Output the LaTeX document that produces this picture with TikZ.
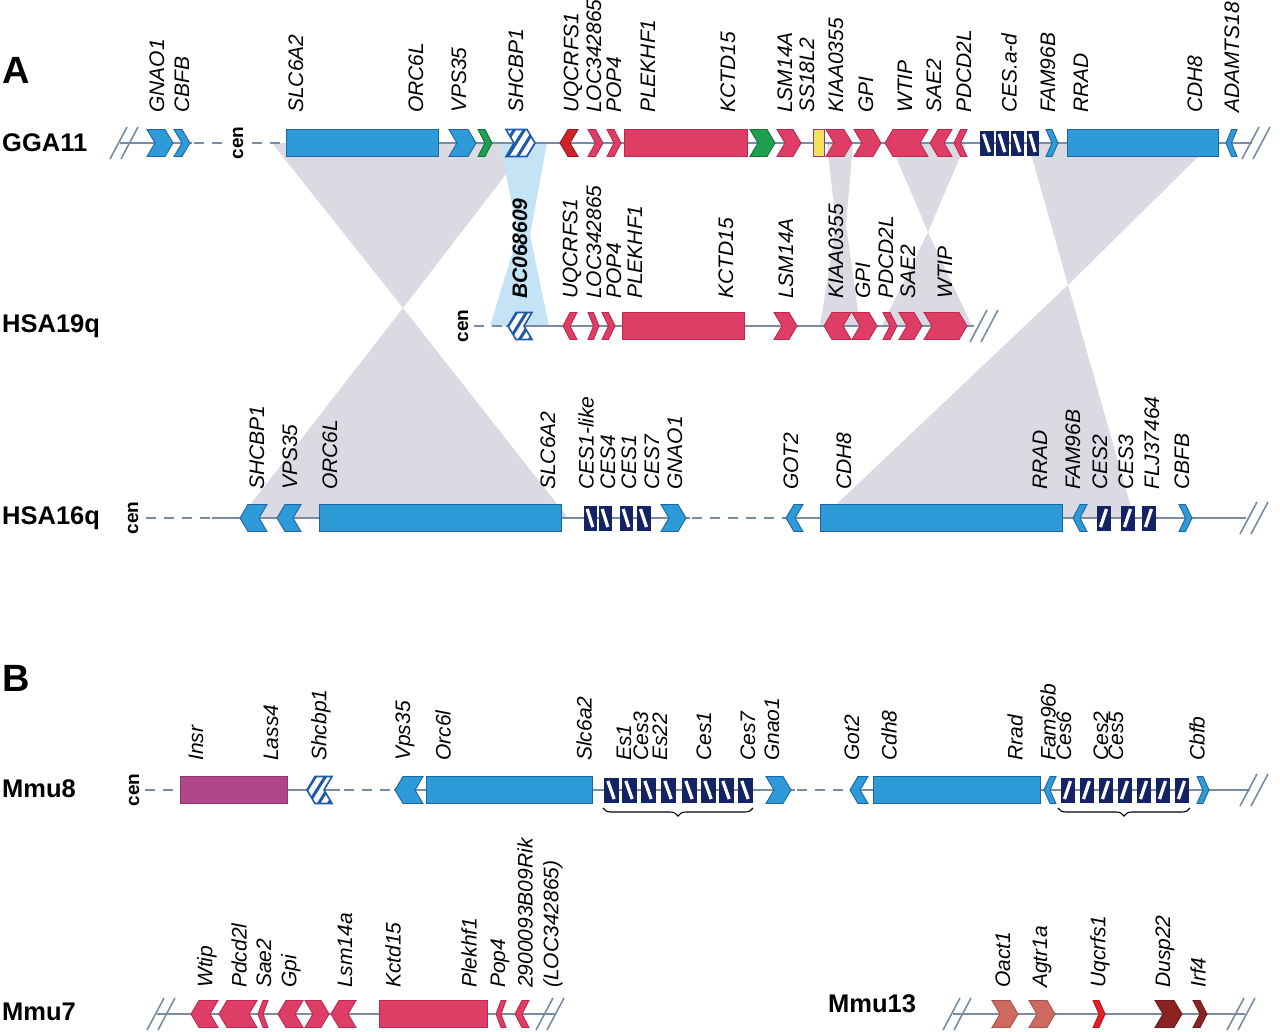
\documentclass[tikz,border=0pt]{standalone}
\usepackage{fontspec}
\setmainfont{Liberation Sans}
\usetikzlibrary{decorations.pathreplacing}
\definecolor{blueF}{RGB}{45,155,215}
\definecolor{blueD}{RGB}{30,100,165}
\definecolor{pinkF}{RGB}{222,62,102}
\definecolor{pinkD}{RGB}{190,40,80}
\definecolor{redF}{RGB}{210,35,45}
\definecolor{greenF}{RGB}{30,160,80}
\definecolor{yellowF}{RGB}{245,225,90}
\definecolor{purpD}{RGB}{140,60,140}
\definecolor{navy}{RGB}{20,35,100}
\definecolor{hatchB}{RGB}{30,90,170}
\definecolor{magF}{RGB}{178,70,140}
\definecolor{synG}{RGB}{218,219,226}
\definecolor{synB}{RGB}{196,228,245}
\definecolor{salF}{RGB}{205,105,95}
\definecolor{brF}{RGB}{228,30,40}
\definecolor{marF}{RGB}{140,35,35}
\definecolor{chrom}{RGB}{120,140,165}
\tikzset{
  blueg/.style={fill=blueF,draw=blueD,line width=0.9},
  pinkg/.style={fill=pinkF,draw=pinkD,line width=0.9},
  redg/.style={fill=redF,draw=redF!70!black,line width=0.9},
  greeng/.style={fill=greenF,draw=greenF!70!black,line width=0.9},
  yellowg/.style={fill=yellowF,draw=purpD,line width=1},
  magg/.style={fill=magF,draw=magF!80!black,line width=0.9},
  salg/.style={fill=salF,draw=salF!80!black,line width=0.9},
  brg/.style={fill=brF,draw=brF!80!black,line width=0.9},
  marg/.style={fill=marF,draw=marF!80!black,line width=0.9},
  chr/.style={draw=chrom,line width=2},
  chrdash/.style={draw=chrom,line width=2,dash pattern=on 10pt off 8pt},
  glab/.style={rotate=90,anchor=west,inner sep=0pt,font=\fontsize{21}{21}\selectfont\itshape},
  glabb/.style={glab,font=\fontsize{21}{21}\selectfont\bfseries\itshape},
  rowlab/.style={anchor=west,inner sep=0pt,font=\fontsize{25.5}{25.5}\selectfont\bfseries},
  panlab/.style={anchor=west,inner sep=0pt,font=\fontsize{38}{38}\selectfont\bfseries},
  cenlab/.style={rotate=90,inner sep=0pt,font=\fontsize{19}{19}\selectfont\bfseries},
}
\newcommand{\setd}[2]{\pgfmathsetmacro\dd{min(8,0.5*(#2-#1))}}
\newcommand{\gR}[4]{\setd{#1}{#2}\path[#4] (#1,#3-13.5) -- ({#2-\dd},#3-13.5) -- (#2,#3) -- ({#2-\dd},#3+13.5) -- (#1,#3+13.5) -- ({#1+\dd},#3) -- cycle;}
\newcommand{\gL}[4]{\setd{#1}{#2}\path[#4] (#1,#3) -- ({#1+\dd},#3-13.5) -- (#2,#3-13.5) -- ({#2-\dd},#3) -- (#2,#3+13.5) -- ({#1+\dd},#3+13.5) -- cycle;}
\newcommand{\gB}[4]{\path[#4] (#1,#3-13.5) rectangle (#2,#3+13.5);}
\newcommand{\hR}[4]{\setd{#1}{#2}%
  \fill[white] (#1,#3-13.5) -- ({#2-\dd},#3-13.5) -- (#2,#3) -- ({#2-\dd},#3+13.5) -- (#1,#3+13.5) -- ({#1+\dd},#3) -- cycle;
  \begin{scope}
    \clip (#1,#3-13.5) -- ({#2-\dd},#3-13.5) -- (#2,#3) -- ({#2-\dd},#3+13.5) -- (#1,#3+13.5) -- ({#1+\dd},#3) -- cycle;
    \foreach \k in {-3,...,4}{\draw[#4,line width=3] ({#1+\k*10},#3+16) -- ({#1+\k*10+20},#3-16);}
  \end{scope}
  \draw[#4,line width=1.6] (#1,#3-13.5) -- ({#2-\dd},#3-13.5) -- (#2,#3) -- ({#2-\dd},#3+13.5) -- (#1,#3+13.5) -- ({#1+\dd},#3) -- cycle;}
\newcommand{\hL}[4]{\setd{#1}{#2}%
  \fill[white] (#1,#3) -- ({#1+\dd},#3-13.5) -- (#2,#3-13.5) -- ({#2-\dd},#3) -- (#2,#3+13.5) -- ({#1+\dd},#3+13.5) -- cycle;
  \begin{scope}
    \clip (#1,#3) -- ({#1+\dd},#3-13.5) -- (#2,#3-13.5) -- ({#2-\dd},#3) -- (#2,#3+13.5) -- ({#1+\dd},#3+13.5) -- cycle;
    \foreach \k in {-3,...,4}{\draw[#4,line width=3] ({#1+\k*10},#3+16) -- ({#1+\k*10+20},#3-16);}
  \end{scope}
  \draw[#4,line width=1.6] (#1,#3) -- ({#1+\dd},#3-13.5) -- (#2,#3-13.5) -- ({#2-\dd},#3) -- (#2,#3+13.5) -- ({#1+\dd},#3+13.5) -- cycle;}
\newcommand{\cesN}[3]{\fill[navy] (#1+0.5,#3-12.5) rectangle (#2-0.5,#3+12.5);
  \draw[white,line width=3.2] ({#1+0.3*(#2-#1)},#3-9) -- ({#2-0.3*(#2-#1)},#3+9);}
\newcommand{\cesS}[3]{\fill[navy] (#1+0.5,#3-12.5) rectangle (#2-0.5,#3+12.5);
  \draw[white,line width=3.2] ({#1+0.3*(#2-#1)},#3+9) -- ({#2-0.3*(#2-#1)},#3-9);}
\newcommand{\slashes}[2]{\draw[chrom,line width=1.6] (#1,#2+16) -- (#1+17,#2-16); \draw[chrom,line width=1.6] (#1+11,#2+16) -- (#1+28,#2-16);}
\newcommand{\lab}[4]{\node[glab] (#1) at (#2,#3) {#4};}

\begin{document}
\begin{tikzpicture}[x=1pt,y=-1pt]
\useasboundingbox (0,0) rectangle (1280,1031);
\fill[white] (0,0) rectangle (1280,1031);

% ---------- synteny areas ----------
\fill[synG] (272,143) -- (530,143) -- (403,308) -- cycle;
\fill[synG] (403,308) -- (240,518) -- (568,518) -- cycle;
\fill[synB] (500,143) -- (547,143) -- (530,235) -- (549,326) -- (490,326) -- (518,235) -- cycle;
\fill[synG] (827,143) -- (853,143) -- (846,225) -- (860,326) -- (820,326) -- (836,225) -- cycle;
\fill[synG] (890,143) -- (966,143) -- (928,232) -- cycle;
\fill[synG] (928,232) -- (882,326) -- (972,326) -- cycle;
\fill[synG] (1028,143) -- (1212,143) -- (1068,285) -- cycle;
\fill[synG] (1068,285) -- (822,518) -- (1134,518) -- cycle;

% ---------- panel and row labels ----------
\node[panlab] (pA) at (2,70) {A};
\node[panlab] (pB) at (2,678) {B};
\node[rowlab] (rGGA) at (2,143) {GGA11};
\node[rowlab] (rH19) at (2,326) {HSA19q};
\node[rowlab] (rH16) at (2,518) {HSA16q};
\node[rowlab] (rM8) at (2,789) {Mmu8};
\node[rowlab] (rM7) at (2,1012) {Mmu7};
\node[rowlab] (rM13) at (828,1004) {Mmu13};

% ---------- GGA11 ----------
\slashes{110}{143}
\draw[chr] (120,143) -- (192,143);
\draw[chrdash] (194,143) -- (228,143);
\node[cenlab] (cen1) at (238,143) {cen};
\draw[chrdash] (252,143) -- (286,143);
\draw[chr] (286,143) -- (1252,143);
\slashes{1242}{143}
\gR{147}{173}{143}{blueg}
\gR{174}{190}{143}{blueg}
\gB{286}{438}{143}{blueg}
\gR{449}{476}{143}{blueg}
\gR{478}{492}{143}{greeng}
\hR{506}{535}{143}{hatchB}
\gL{560}{578}{143}{redg}
\gR{588}{603}{143}{pinkg}
\gR{607}{621}{143}{pinkg}
\gB{624}{747}{143}{pinkg}
\gR{750}{775}{143}{greeng}
\gR{777}{801}{143}{pinkg}
\gB{813}{824}{143}{yellowg}
\gR{826}{852}{143}{pinkg}
\gR{854}{881}{143}{pinkg}
\gL{885}{928}{143}{pinkg}
\gL{930}{952}{143}{pinkg}
\gL{954}{967}{143}{pinkg}
\cesN{979}{994}{143}
\cesN{995}{1009}{143}
\cesN{1010}{1024}{143}
\cesN{1026}{1039}{143}
\gR{1046}{1058}{143}{blueg}
\gB{1067}{1218}{143}{blueg}
\gL{1226}{1237}{143}{blueg}
\lab{a1}{157}{113}{GNAO1}
\lab{a2}{182}{113}{CBFB}
\lab{a3}{296}{113}{SLC6A2}
\lab{a4}{416}{113}{ORC6L}
\lab{a5}{459}{113}{VPS35}
\lab{a6}{516}{113}{SHCBP1}
\lab{a7}{573}{113}{UQCRFS1}
\lab{a8}{594}{113}{LOC342865}
\lab{a9}{614}{113}{POP4}
\lab{a10}{648}{113}{PLEKHF1}
\lab{a11}{728}{113}{KCTD15}
\lab{a12}{785}{113}{LSM14A}
\lab{a13}{807}{113}{SS18L2}
\lab{a14}{836}{113}{KIAA0355}
\lab{a15}{866}{113}{GPI}
\lab{a16}{905}{113}{WTIP}
\lab{a17}{934}{113}{SAE2}
\lab{a18}{964}{113}{PDCD2L}
\lab{a19}{1009}{113}{CES.a-d}
\lab{a20}{1048}{113}{FAM96B}
\lab{a21}{1081}{113}{RRAD}
\lab{a22}{1195}{113}{CDH8}
\lab{a23}{1232}{113}{ADAMTS18}

% ---------- HSA19q ----------
\node[cenlab] (cen2) at (463,326) {cen};
\draw[chrdash] (474,326) -- (506,326);
\draw[chr] (506,326) -- (974,326);
\slashes{970}{326}
\hL{508}{532}{326}{hatchB}
\gL{563}{577}{326}{pinkg}
\gR{588}{599}{326}{pinkg}
\gR{602}{615}{326}{pinkg}
\gB{622}{744}{326}{pinkg}
\gR{774}{797}{326}{pinkg}
\gL{824}{851}{326}{pinkg}
\gR{852}{877}{326}{pinkg}
\gR{883}{897}{326}{pinkg}
\gR{899}{922}{326}{pinkg}
\gR{924}{967}{326}{pinkg}
\node[glabb] (b1) at (520,299) {BC068609};
\lab{b2}{572}{299}{UQCRFS1}
\lab{b3}{594}{299}{LOC342865}
\lab{b4}{614}{299}{POP4}
\lab{b5}{635}{299}{PLEKHF1}
\lab{b6}{726}{299}{KCTD15}
\lab{b7}{786}{299}{LSM14A}
\lab{b8}{836}{299}{KIAA0355}
\lab{b9}{863}{299}{GPI}
\lab{b10}{886}{299}{PDCD2L}
\lab{b11}{908}{299}{SAE2}
\lab{b12}{945}{299}{WTIP}

% ---------- HSA16q ----------
\node[cenlab] (cen3) at (133,518) {cen};
\draw[chrdash] (146,518) -- (212,518);
\draw[chr] (212,518) -- (690,518);
\draw[chrdash] (692,518) -- (786,518);
\draw[chr] (786,518) -- (1246,518);
\slashes{1240}{518}
\gL{240}{267}{518}{blueg}
\gL{277}{301}{518}{blueg}
\gB{319}{561}{518}{blueg}
\cesN{583}{597}{518}
\cesN{598}{612}{518}
\cesN{619}{633}{518}
\cesN{636}{651}{518}
\gR{661}{686}{518}{blueg}
\gL{786}{803}{518}{blueg}
\gB{820}{1062}{518}{blueg}
\gL{1073}{1087}{518}{blueg}
\cesS{1096}{1111}{518}
\cesS{1120}{1135}{518}
\cesS{1141}{1156}{518}
\gR{1179}{1192}{518}{blueg}
\lab{c1}{257}{490}{SHCBP1}
\lab{c2}{290}{490}{VPS35}
\lab{c3}{330}{490}{ORC6L}
\lab{c4}{548}{490}{SLC6A2}
\lab{c5}{586}{490}{CES1-like}
\lab{c6}{608}{490}{CES4}
\lab{c7}{629}{490}{CES1}
\lab{c8}{652}{490}{CES7}
\lab{c9}{675}{490}{GNAO1}
\lab{c10}{791}{490}{GOT2}
\lab{c11}{844}{490}{CDH8}
\lab{c12}{1040}{490}{RRAD}
\lab{c13}{1073}{490}{FAM96B}
\lab{c14}{1100}{490}{CES2}
\lab{c15}{1126}{490}{CES3}
\lab{c16}{1152}{490}{FLJ37464}
\lab{c17}{1182}{490}{CBFB}

% ---------- Mmu8 ----------
\node[cenlab] (cen4) at (134,790) {cen};
\draw[chrdash] (145,790) -- (180,790);
\draw[chr] (180,790) -- (340,790);
\draw[chrdash] (344,790) -- (394,790);
\draw[chr] (394,790) -- (795,790);
\draw[chrdash] (797,790) -- (850,790);
\draw[chr] (850,790) -- (1250,790);
\slashes{1240}{790}
\gB{180}{287}{790}{magg}
\hL{307}{332}{790}{hatchB}
\gL{395}{423}{790}{blueg}
\gB{426}{592}{790}{blueg}
\foreach \xx in {603,621,640,660,681,700,718,737}{\cesN{\xx}{\xx+16}{790}}
\gR{766}{791}{790}{blueg}
\gL{850}{868}{790}{blueg}
\gB{873}{1040}{790}{blueg}
\gL{1044}{1056}{790}{blueg}
\foreach \xx in {1060,1079,1098,1117,1136,1155,1174}{\cesS{\xx}{\xx+15}{790}}
\gR{1197}{1209}{790}{blueg}
\coordinate (br1a) at (603,808);
\coordinate (br1b) at (753,808);
\coordinate (br2a) at (1058,808);
\coordinate (br2b) at (1190,808);
\draw[decorate,decoration={brace,mirror,amplitude=8pt},line width=1.1] (br1a) -- (br1b);
\draw[decorate,decoration={brace,mirror,amplitude=8pt},line width=1.1] (br2a) -- (br2b);
\lab{d1}{196}{761}{Insr}
\lab{d2}{271}{761}{Lass4}
\lab{d3}{321}{761}{Shcbp1}
\lab{d4}{405}{761}{Vps35}
\lab{d5}{443}{761}{Orc6l}
\lab{d6}{584}{761}{Slc6a2}
\lab{d7}{624}{761}{Es1}
\lab{d8}{641}{761}{Ces3}
\lab{d9}{660}{761}{Es22}
\lab{d10}{704}{761}{Ces1}
\lab{d11}{748}{761}{Ces7}
\lab{d12}{772}{761}{Gnao1}
\lab{d13}{852}{761}{Got2}
\lab{d14}{889}{761}{Cdh8}
\lab{d15}{1015}{761}{Rrad}
\lab{d16}{1048}{761}{Fam96b}
\lab{d17}{1064}{761}{Ces6}
\lab{d18}{1101}{761}{Ces2}
\lab{d19}{1116}{761}{Ces5}
\lab{d20}{1197}{761}{Cbfb}

% ---------- Mmu7 ----------
\slashes{147}{1014}
\draw[chr] (157,1014) -- (555,1014);
\slashes{536}{1014}
\gL{191}{218}{1014}{pinkg}
\gL{219}{257}{1014}{pinkg}
\gL{258}{268}{1014}{pinkg}
\gL{278}{303}{1014}{pinkg}
\gR{305}{329}{1014}{pinkg}
\gL{331}{356}{1014}{pinkg}
\gB{379}{487}{1014}{pinkg}
\gL{496}{506}{1014}{pinkg}
\gL{515}{529}{1014}{pinkg}
\lab{e1}{207}{988}{Wtip}
\lab{e2}{239}{988}{Pdcd2l}
\lab{e3}{264}{988}{Sae2}
\lab{e4}{291}{988}{Gpi}
\lab{e5}{345}{988}{Lsm14a}
\lab{e6}{393}{988}{Kctd15}
\lab{e7}{469}{988}{Plekhf1}
\lab{e8}{500}{988}{Pop4}
\lab{e9}{525}{988}{2900093B09Rik}
\lab{e10}{553}{988}{(LOC342865)}

% ---------- Mmu13 ----------
\slashes{943}{1014}
\draw[chr] (953,1014) -- (1245,1014);
\slashes{1227}{1014}
\gR{992}{1018}{1014}{salg}
\gR{1029}{1055}{1014}{salg}
\gR{1093}{1105}{1014}{brg}
\gR{1155}{1182}{1014}{marg}
\gR{1193}{1207}{1014}{marg}
\lab{f1}{1003}{988}{Oact1}
\lab{f2}{1042}{988}{Agtr1a}
\lab{f3}{1100}{988}{Uqcrfs1}
\lab{f4}{1165}{988}{Dusp22}
\lab{f5}{1198}{988}{Irf4}
\end{tikzpicture}
\end{document}
